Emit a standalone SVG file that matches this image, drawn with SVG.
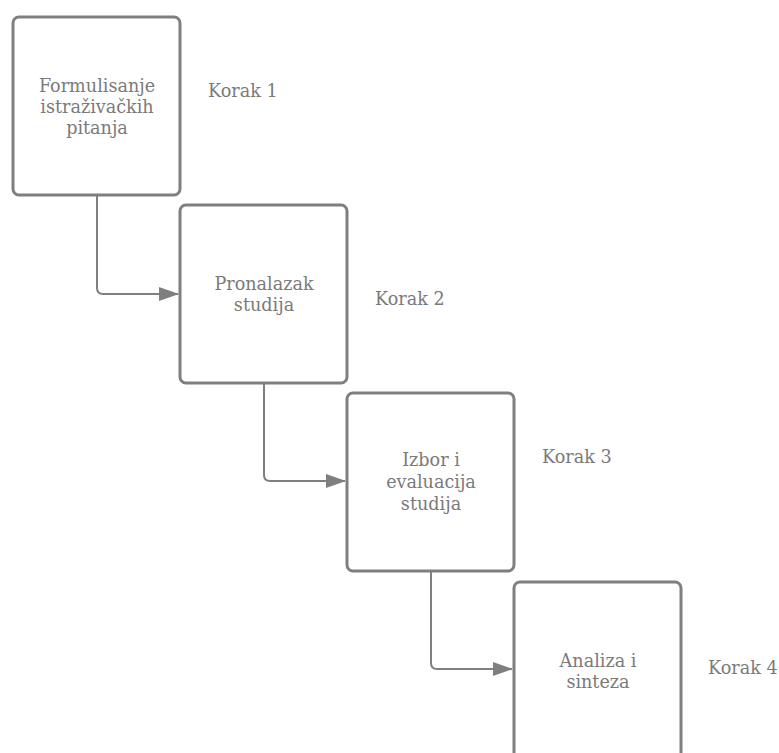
<svg xmlns="http://www.w3.org/2000/svg" width="779" height="753" viewBox="0 0 779 753">
<style>
.box{fill:#fff;stroke:#7f7f7f;stroke-width:3}
.t{font-family:"DejaVu Serif","Liberation Serif",serif;font-size:17.6px;fill:#7a7a7a;text-anchor:middle}
.k{font-family:"DejaVu Serif","Liberation Serif",serif;font-size:17.6px;fill:#7a7a7a}
.c{fill:none;stroke:#7f7f7f;stroke-width:2}
</style>
<defs>
<marker id="ah" markerWidth="20" markerHeight="14" refX="19" refY="7" orient="auto" markerUnits="userSpaceOnUse">
<path d="M0,0 L20,7 L0,14 Z" fill="#7f7f7f"/>
</marker>
</defs>
<rect width="779" height="753" fill="#fff"/>
<g id="connectors">
<path class="c" d="M97,195 V288 Q97,294 103,294 H178" marker-end="url(#ah)"/>
<path class="c" d="M264,383 V475 Q264,481 270,481 H345" marker-end="url(#ah)"/>
<path class="c" d="M431,571 V663 Q431,669 437,669 H512" marker-end="url(#ah)"/>
</g>
<g id="n1">
<rect class="box" x="13" y="17" width="167" height="178" rx="6"/>
<text class="t" x="97" y="92">Formulisanje</text>
<text class="t" x="97" y="113">istraživačkih</text>
<text class="t" x="97" y="134">pitanja</text>
</g>
<g id="n2">
<rect class="box" x="180" y="205" width="167" height="178" rx="6"/>
<text class="t" x="264" y="290">Pronalazak</text>
<text class="t" x="264" y="311">studija</text>
</g>
<g id="n3">
<rect class="box" x="347" y="393" width="167" height="178" rx="6"/>
<text class="t" x="431" y="466">Izbor i</text>
<text class="t" x="431" y="488">evaluacija</text>
<text class="t" x="431" y="510">studija</text>
</g>
<g id="n4">
<rect class="box" x="514" y="582" width="167" height="190" rx="6"/>
<text class="t" x="598" y="667">Analiza i</text>
<text class="t" x="598" y="688">sinteza</text>
</g>
<g id="labels">
<text class="k" x="208" y="97">Korak 1</text>
<text class="k" x="375" y="305">Korak 2</text>
<text class="k" x="542" y="463">Korak 3</text>
<text class="k" x="708" y="674">Korak 4</text>
</g>
</svg>
